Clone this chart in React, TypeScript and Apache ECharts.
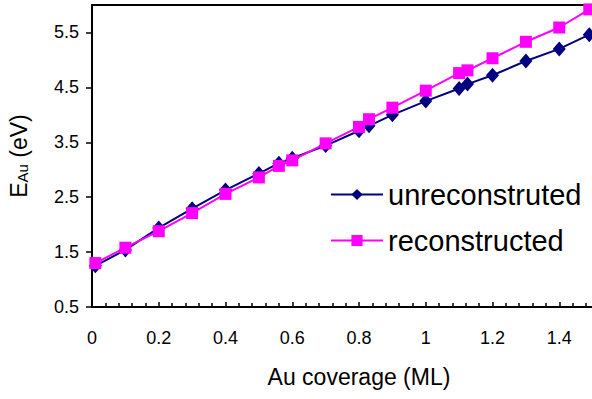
import React, { useEffect, useRef } from "react";
import * as echarts from "echarts";

const coverage = [0.01, 0.1, 0.2, 0.3, 0.4, 0.5, 0.56, 0.6, 0.7, 0.8, 0.83, 0.9, 1.0, 1.1, 1.125, 1.2, 1.3, 1.4, 1.49];
const unreconstructed = [1.25, 1.54, 1.94, 2.29, 2.63, 2.93, 3.12, 3.21, 3.44, 3.71, 3.8, 4.0, 4.25, 4.48, 4.56, 4.72, 4.98, 5.2, 5.46];
const reconstructed = [1.3, 1.58, 1.88, 2.21, 2.56, 2.86, 3.07, 3.17, 3.48, 3.78, 3.92, 4.13, 4.44, 4.76, 4.81, 5.03, 5.33, 5.59, 5.92];
const xTicks = [0, 0.2, 0.4, 0.6, 0.8, 1, 1.2, 1.4];
const yTicks = [0.5, 1.5, 2.5, 3.5, 4.5, 5.5];
const seriesNames = ["unreconstruted", "reconstructed"];

const FONT = '"Liberation Sans", Arial, Helvetica, sans-serif';

export default function App() {
  const ref = useRef<HTMLDivElement>(null);
  useEffect(() => {
    if (!ref.current) return;
    const chart = echarts.init(ref.current, null, { renderer: "svg" });
    chart.setOption({
      animation: false,
      backgroundColor: "#ffffff",
      grid: {
        left: 92,
        top: 5,
        bottom: 92,
        right: -34,
        containLabel: false,
        outerBoundsMode: "none",
        show: true,
        borderColor: "#000",
        borderWidth: 2,
      },
      legend: {
        data: seriesNames,
        orient: "vertical",
        left: 325,
        top: 175,
        itemWidth: 52,
        itemHeight: 14,
        itemGap: 17,
        textStyle: { fontSize: 29, fontFamily: FONT, color: "#000" },
      },
      xAxis: {
        type: "value",
        min: 0,
        max: 1.6,
        interval: 0.2,
        name: "Au coverage (ML)",
        nameLocation: "middle",
        nameGap: 58,
        nameTextStyle: { fontSize: 23, fontFamily: FONT, color: "#000" },
        axisLine: { show: true, lineStyle: { color: "#000", width: 2 } },
        axisTick: { show: true, inside: true, length: 5, lineStyle: { color: "#000", width: 1.5 } },
        minorTick: { show: true, splitNumber: 5, length: 4, lineStyle: { color: "#000", width: 1.5 } },
        axisLabel: { fontSize: 18, fontFamily: FONT, color: "#000", margin: 22, customValues: xTicks },
        splitLine: { show: false },
      },
      yAxis: {
        type: "value",
        min: 0.5,
        max: 6,
        interval: 1,
        name: "{a|E}{b|Au}{c| (eV)}",
        nameLocation: "middle",
        nameRotate: 90,
        nameGap: 62,
        nameTextStyle: {
          color: "#000",
          rich: {
            a: { fontSize: 23, fontFamily: FONT, color: "#000" },
            b: { fontSize: 15, fontFamily: FONT, color: "#000", verticalAlign: "bottom" },
            c: { fontSize: 23, fontFamily: FONT, color: "#000" },
          },
        },
        axisLine: { show: true, lineStyle: { color: "#000", width: 2 } },
        axisTick: { show: true, inside: false, length: 6, customValues: yTicks, lineStyle: { color: "#000", width: 1.5 } },
        axisLabel: {
          fontSize: 18,
          fontFamily: FONT,
          color: "#000",
          margin: 13,
          customValues: yTicks,
          formatter: (v: number) => v.toFixed(1),
        },
        splitLine: { show: false },
      },
      series: [
        {
          name: seriesNames[0],
          type: "line",
          data: coverage.map((x, i) => [x, unreconstructed[i]]),
          symbol: "diamond",
          symbolSize: [13, 15],
          lineStyle: { color: "#000080", width: 2 },
          itemStyle: { color: "#000080" },
        },
        {
          name: seriesNames[1],
          type: "line",
          data: coverage.map((x, i) => [x, reconstructed[i]]),
          symbol: "rect",
          symbolSize: 12,
          lineStyle: { color: "#ff00ff", width: 2 },
          itemStyle: { color: "#ff00ff" },
        },
      ],
    });
    return () => chart.dispose();
  }, []);
  return <div ref={ref} style={{ width: 592, height: 399, position: "absolute", left: 0, top: 0 }} />;
}
